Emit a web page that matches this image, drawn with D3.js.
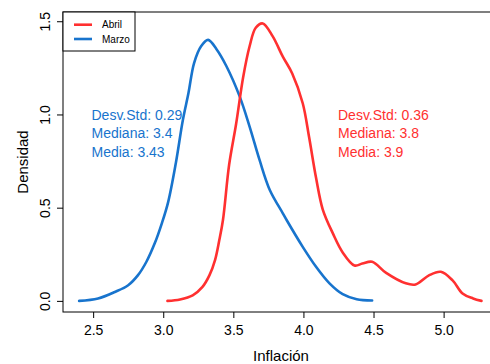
<!DOCTYPE html>
<html>
<head>
<meta charset="utf-8">
<script src="https://cdn.jsdelivr.net/npm/d3@7"></script>
<style>
  body { margin: 0; background: #fff; }
  text { font-family: "Liberation Sans", Arial, sans-serif; }
</style>
</head>
<body>
<div id="chart"></div>
<script>
// Densidad de inflación - Marzo
const marzoX = [2.40, 2.535, 2.655, 2.75, 2.82, 2.88, 2.94, 2.99, 3.035, 3.09, 3.14, 3.18, 3.22, 3.27, 3.32, 3.38, 3.45, 3.545, 3.616, 3.687, 3.76, 3.853, 3.88, 3.995, 4.09, 4.186, 4.28, 4.38, 4.49];
const marzoY = [0.0, 0.013, 0.048, 0.084, 0.138, 0.21, 0.31, 0.416, 0.53, 0.74, 0.97, 1.115, 1.276, 1.366, 1.40, 1.35, 1.26, 1.097, 0.935, 0.756, 0.595, 0.47, 0.434, 0.29, 0.183, 0.094, 0.036, 0.009, 0.002];

// Densidad de inflación - Abril
const abrilX = [3.03, 3.12, 3.21, 3.28, 3.33, 3.37, 3.40, 3.426, 3.47, 3.52, 3.57, 3.616, 3.66, 3.71, 3.78, 3.853, 3.92, 3.995, 4.04, 4.09, 4.138, 4.21, 4.28, 4.364, 4.42, 4.49, 4.59, 4.73, 4.80, 4.898, 4.98, 5.064, 5.135, 5.21, 5.27];
const abrilY = [0.0, 0.008, 0.03, 0.075, 0.138, 0.22, 0.326, 0.434, 0.73, 0.95, 1.20, 1.366, 1.465, 1.488, 1.42, 1.31, 1.22, 1.06, 0.88, 0.66, 0.49, 0.362, 0.26, 0.19, 0.20, 0.21, 0.15, 0.094, 0.088, 0.138, 0.156, 0.11, 0.04, 0.013, 0.0];

const xTicks = [2.5, 3.0, 3.5, 4.0, 4.5, 5.0];
const yTicks = [0.0, 0.5, 1.0, 1.5];

const seriesNames = ["Abril", "Marzo"];
const seriesColors = ["#FF3030", "#1874CD"];

const statsMarzo = ["Desv.Std: 0.29", "Mediana: 3.4", "Media: 3.43"];
const statsAbril = ["Desv.Std: 0.36", "Mediana: 3.8", "Media: 3.9"];

const width = 490, height = 364;
const pLeft = 63, pRight = 499, pTop = 12, pBottom = 312;

const svg = d3.select("#chart")
  .append("svg")
  .attr("width", width)
  .attr("height", height);

const x = d3.scaleLinear().domain([2.285, 5.395]).range([pLeft, pRight]);
const y = d3.scaleLinear().domain([-0.0596, 1.5496]).range([pBottom, pTop]);

// caja del gráfico
svg.append("rect")
  .attr("x", pLeft).attr("y", pTop)
  .attr("width", pRight - pLeft).attr("height", pBottom - pTop)
  .attr("fill", "none").attr("stroke", "#000").attr("stroke-width", 1);

// ejes
const xAxis = svg.append("g")
  .attr("transform", `translate(0,${pBottom})`)
  .call(d3.axisBottom(x).tickValues(xTicks).tickFormat(d3.format(".1f")).tickSize(6).tickPadding(7));
xAxis.select(".domain").remove();
xAxis.selectAll("text").attr("font-size", 14).attr("fill", "#000")
  .attr("font-family", '"Liberation Sans", Arial, sans-serif');

const yAxis = svg.append("g")
  .attr("transform", `translate(${pLeft},0)`)
  .call(d3.axisLeft(y).tickValues(yTicks).tickFormat(d3.format(".1f")).tickSize(6));
yAxis.select(".domain").remove();
yAxis.selectAll("text")
  .attr("font-size", 14).attr("fill", "#000")
  .attr("font-family", '"Liberation Sans", Arial, sans-serif')
  .attr("x", null).attr("dy", null)
  .attr("text-anchor", "middle")
  .attr("transform", "translate(-13,0) rotate(-90)");

// títulos de ejes
svg.append("text")
  .attr("x", (pLeft + pRight) / 2).attr("y", 361)
  .attr("text-anchor", "middle").attr("font-size", 15)
  .text("Inflación");

svg.append("text")
  .attr("transform", `translate(28,${(pTop + pBottom) / 2}) rotate(-90)`)
  .attr("text-anchor", "middle").attr("font-size", 15)
  .text("Densidad");

// curvas
svg.append("clipPath").attr("id", "clip")
  .append("rect").attr("x", pLeft).attr("y", pTop).attr("width", pRight - pLeft).attr("height", pBottom - pTop);

const line = d3.line()
  .x(d => x(d[0]))
  .y(d => y(d[1]))
  .curve(d3.curveCatmullRom.alpha(0.5));

const series = [
  { name: "Marzo", pts: d3.zip(marzoX, marzoY), color: seriesColors[1] },
  { name: "Abril", pts: d3.zip(abrilX, abrilY), color: seriesColors[0] }
];

series.forEach(s => {
  svg.append("path")
    .attr("d", line(s.pts))
    .attr("fill", "none")
    .attr("stroke", s.color)
    .attr("stroke-width", 2.6)
    .attr("stroke-linejoin", "round")
    .attr("stroke-linecap", "round")
    .attr("clip-path", "url(#clip)");
});

// estadísticas
function stats(lines, x0, color) {
  svg.append("g").selectAll("text")
    .data(lines)
    .enter()
    .append("text")
    .attr("x", x0)
    .attr("y", (d, i) => 120 + i * 18.3)
    .attr("font-size", 14)
    .attr("fill", color)
    .text(d => d);
}
stats(statsMarzo, 91.5, seriesColors[1]);
stats(statsAbril, 338, seriesColors[0]);

// leyenda
const legend = svg.append("g");
legend.append("rect")
  .attr("x", pLeft).attr("y", pTop)
  .attr("width", 72).attr("height", 39)
  .attr("fill", "#fff").attr("stroke", "#000").attr("stroke-width", 1);

seriesNames.forEach((name, i) => {
  const ly = 24.7 + i * 14.3;
  legend.append("line")
    .attr("x1", 74).attr("x2", 92)
    .attr("y1", ly).attr("y2", ly)
    .attr("stroke", seriesColors[i]).attr("stroke-width", 2.6);
  legend.append("text")
    .attr("x", 102).attr("y", ly + 3.6)
    .attr("font-size", 10)
    .text(name);
});
</script>
</body>
</html>
